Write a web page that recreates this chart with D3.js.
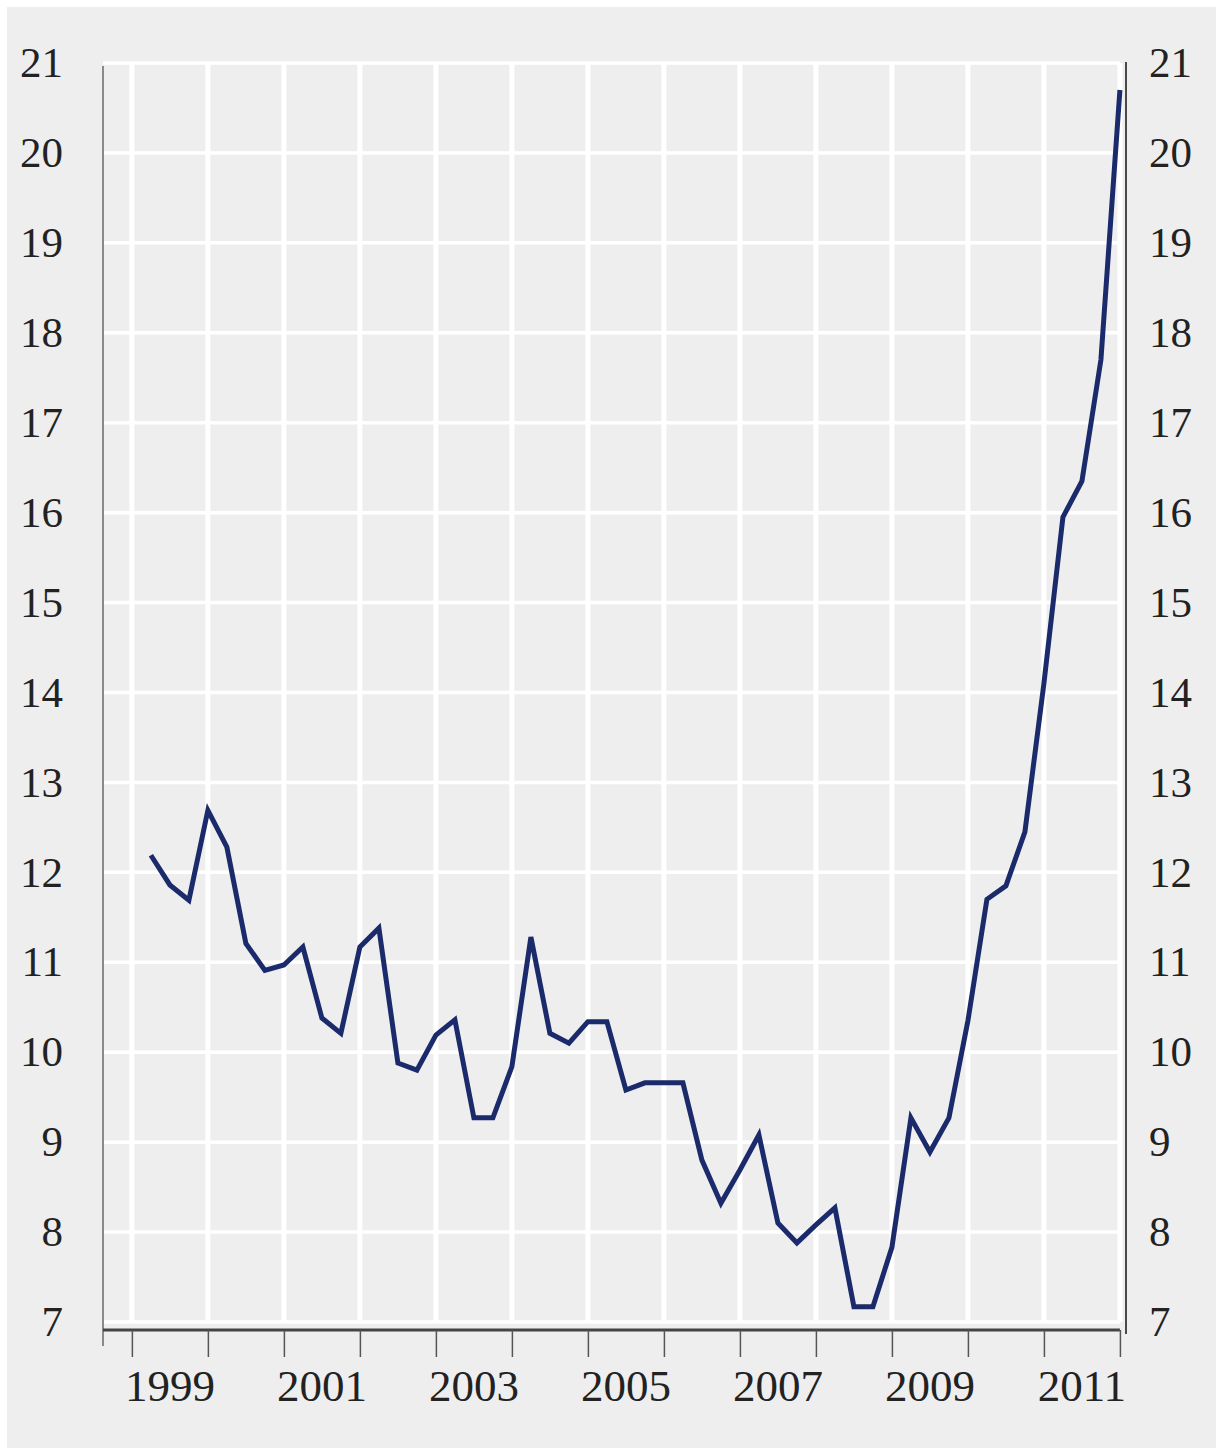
<!DOCTYPE html>
<html>
<head>
<meta charset="utf-8">
<script src="https://cdn.jsdelivr.net/npm/d3@7"></script>
<style>
  body { margin: 0; background: #fff; }
  text { font-family: "Liberation Serif", "DejaVu Serif", serif; fill: #222; }
</style>
</head>
<body>
<div id="chart"></div>
<script>
// Quarterly values, 1999 Q1 .. 2011 Q4
const years = [1999, 2000, 2001, 2002, 2003, 2004, 2005, 2006, 2007, 2008, 2009, 2010, 2011];
const quarters = [1, 2, 3, 4];
const values = [
  12.19, 11.86, 11.69, 12.69,
  12.28, 11.21, 10.91, 10.97,
  11.17, 10.38, 10.21, 11.17,
  11.38,  9.88,  9.80, 10.19,
  10.36,  9.27,  9.27,  9.84,
  11.28, 10.21, 10.10, 10.34,
  10.34,  9.58,  9.66,  9.66,
   9.66,  8.80,  8.32,  8.69,
   9.08,  8.10,  7.88,  8.08,
   8.27,  7.17,  7.17,  7.83,
   9.27,  8.89,  9.27, 10.35,
  11.70, 11.85, 12.45, 14.10,
  15.95, 16.35, 17.70, 20.70
];
const yTicks = [7, 8, 9, 10, 11, 12, 13, 14, 15, 16, 17, 18, 19, 20, 21];
const xLabelYears = [1999, 2001, 2003, 2005, 2007, 2009, 2011];
const yearTicks = [1999, 2000, 2001, 2002, 2003, 2004, 2005, 2006, 2007, 2008, 2009, 2010, 2011, 2012];

const data = [];
years.forEach((yr, i) => {
  quarters.forEach((q, j) => {
    data.push({ t: yr + q / 4, v: values[i * 4 + j] });
  });
});

const W = 1220, H = 1452;

const svg = d3.select("#chart")
  .append("svg")
  .attr("width", W)
  .attr("height", H);

// panel background
svg.append("rect")
  .attr("x", 7).attr("y", 7)
  .attr("width", W - 11).attr("height", H - 11)
  .attr("fill", "#eeeeee");

// scales
const x = d3.scaleLinear()
  .domain([1998.62, 2012.08])
  .range([103, 1126]);

const y = d3.scaleLinear()
  .domain([7, 21])
  .range([1322, 63]);

// grid
svg.append("g")
  .selectAll("line")
  .data(yTicks)
  .join("line")
  .attr("x1", x(1998.62)).attr("x2", x(2012))
  .attr("y1", d => y(d)).attr("y2", d => y(d))
  .attr("stroke", "#fff")
  .attr("stroke-width", 3.5);

svg.append("g")
  .selectAll("line")
  .data(yearTicks)
  .join("line")
  .attr("x1", d => x(d)).attr("x2", d => x(d))
  .attr("y1", y(21)).attr("y2", y(7))
  .attr("stroke", "#fff")
  .attr("stroke-width", 5);

// left axis line (light)
svg.append("line")
  .attr("x1", x(1998.62)).attr("x2", x(1998.62))
  .attr("y1", y(21) + 3).attr("y2", 1346)
  .attr("stroke", "#8a8a8a")
  .attr("stroke-width", 2);

// right axis line
svg.append("line")
  .attr("x1", x(2012.08)).attr("x2", x(2012.08))
  .attr("y1", y(21) - 1).attr("y2", 1334)
  .attr("stroke", "#4a4a4a")
  .attr("stroke-width", 2);

// bottom axis with year ticks
const xAxis = d3.axisBottom(x)
  .tickValues(yearTicks)
  .tickSize(27)
  .tickSizeOuter(0)
  .tickFormat("");

const gx = svg.append("g")
  .attr("transform", "translate(0,1330)")
  .call(xAxis);
gx.select(".domain")
  .attr("d", `M${x(1998.62)},0H${x(2012)}`)
  .attr("stroke", "#444")
  .attr("stroke-width", 3);
gx.selectAll(".tick line")
  .attr("stroke", "#555")
  .attr("stroke-width", 1.5);

// year labels, centred on the year
svg.append("g")
  .selectAll("text")
  .data(xLabelYears)
  .join("text")
  .attr("x", d => x(d + 0.5))
  .attr("y", 1401)
  .attr("text-anchor", "middle")
  .attr("font-size", 45)
  .text(d => d);

// left and right value labels
svg.append("g")
  .selectAll("text")
  .data(yTicks)
  .join("text")
  .attr("x", 63)
  .attr("y", d => y(d))
  .attr("dy", "0.33em")
  .attr("text-anchor", "end")
  .attr("font-size", 43)
  .text(d => d);

svg.append("g")
  .selectAll("text")
  .data(yTicks)
  .join("text")
  .attr("x", 1149)
  .attr("y", d => y(d))
  .attr("dy", "0.33em")
  .attr("text-anchor", "start")
  .attr("font-size", 43)
  .text(d => d);

// the series
const line = d3.line()
  .x(d => x(d.t))
  .y(d => y(d.v));

svg.append("path")
  .datum(data)
  .attr("fill", "none")
  .attr("stroke", "#1b2a6b")
  .attr("stroke-width", 5)
  .attr("stroke-linejoin", "miter")
  .attr("d", line);
</script>
</body>
</html>
